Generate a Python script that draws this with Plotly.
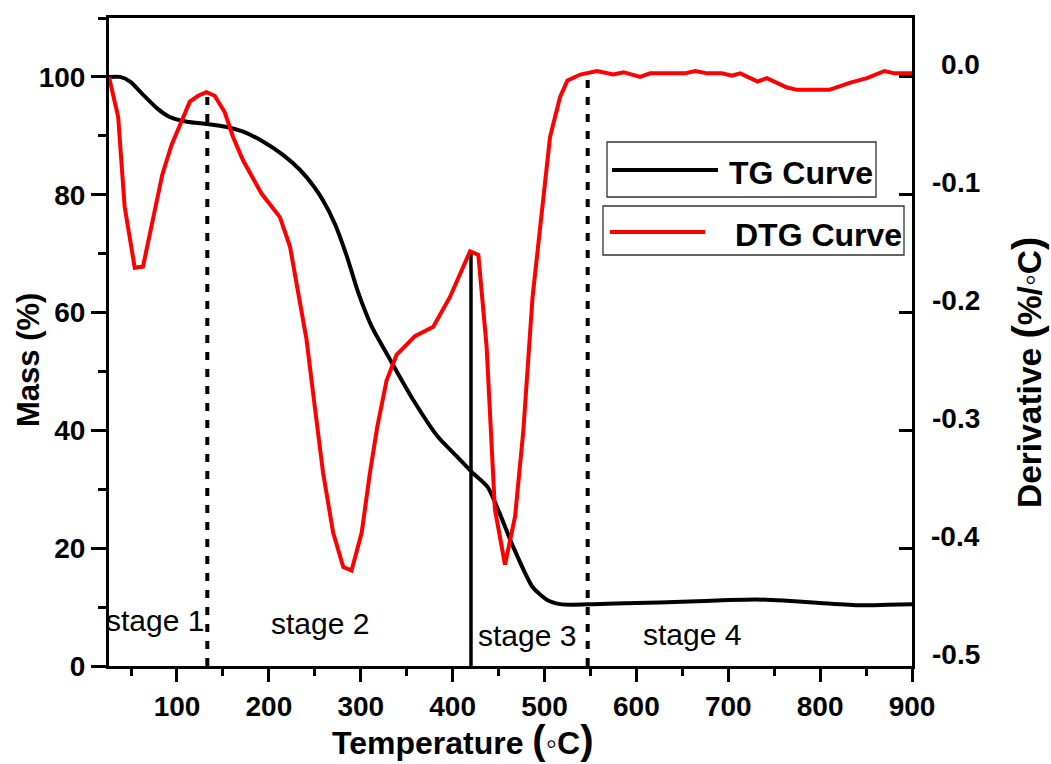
import plotly.graph_objects as go

# ---------------- data ----------------
tg_temp = [26, 38, 49, 63, 78, 92, 111, 133, 154, 172, 194, 215, 234, 248, 259, 272, 285,
           297, 312, 332, 357, 384, 405, 421, 438, 451, 466, 487, 503, 517, 530, 553,
           600, 650, 700, 730, 760, 800, 843, 873, 900]
tg_mass = [100, 100, 99.2, 97.0, 94.7, 93.2, 92.4, 92.0, 91.5, 90.7, 89.0, 86.8, 84.2,
           81.6, 79.0, 75.0, 69.5, 63.5, 57.6, 52.0, 45.2, 38.9, 35.5, 32.9, 30.4, 26.0,
           20.2, 13.4, 11.2, 10.5, 10.4, 10.5, 10.7, 10.9, 11.2, 11.3, 11.1, 10.7, 10.3,
           10.4, 10.5]

dtg_temp = [26, 36, 43, 54, 63, 84, 94, 114, 123, 132, 141, 152, 161, 172, 192, 212, 223,
            232, 241, 250, 259, 270, 281, 290, 301, 310, 318, 328, 339, 359, 379, 397,
            419, 428, 437, 446, 457, 468, 477, 487, 495, 503, 506, 517, 525, 539, 557,
            575, 586, 604, 615, 633, 653, 664, 677, 693, 704, 713, 732, 742, 753, 764,
            775, 792, 810, 821, 832, 851, 863, 870, 881, 900]
dtg_deriv = [0.0, -0.034, -0.110, -0.162, -0.161, -0.083, -0.058, -0.021, -0.016, -0.013,
             -0.016, -0.030, -0.051, -0.071, -0.099, -0.119, -0.144, -0.184, -0.223,
             -0.280, -0.336, -0.387, -0.416, -0.419, -0.387, -0.336, -0.297, -0.258,
             -0.236, -0.220, -0.212, -0.187, -0.148, -0.151, -0.229, -0.367, -0.414,
             -0.373, -0.300, -0.187, -0.130, -0.069, -0.051, -0.017, -0.003, 0.002,
             0.005, 0.002, 0.004, 0.000, 0.003, 0.003, 0.003, 0.005, 0.003, 0.003,
             0.001, 0.003, -0.004, -0.001, -0.005, -0.009, -0.011, -0.011, -0.011,
             -0.008, -0.005, -0.001, 0.003, 0.005, 0.003, 0.003]

boundary_temp = [133, 420, 547]
boundary_top = [-0.016, -0.148, 0.003]
boundary_dash = ["8px,9px", "solid", "8px,9px"]

stage_names = ["stage 1", "stage 2", "stage 3", "stage 4"]
stage_temp = [76, 256, 481, 661]
stage_mass = [7.8, 7.3, 5.1, 5.3]

x_ticks = [100, 200, 300, 400, 500, 600, 700, 800, 900]
mass_ticks = [0, 20, 40, 60, 80, 100]
deriv_ticks = [0.0, -0.1, -0.2, -0.3, -0.4, -0.5]
deriv_ticktext = [f"{v:.1f}" for v in deriv_ticks]

legend_names = ["TG Curve", "DTG Curve"]
legend_colors = ["black", "red"]

# ---------------- layout geometry (page pixels) ----------------
W, H = 1051, 764
L, R, T, B = 109, 912, 18, 666   # plot area in page pixels


def px(xp):
    return (xp - L) / (R - L)


def py(yp):
    return (B - yp) / (B - T)


FONT = "Liberation Sans, Arial, sans-serif"

fig = go.Figure()

fig.add_trace(go.Scatter(x=tg_temp, y=tg_mass, mode="lines", name=legend_names[0],
                         line=dict(color=legend_colors[0], width=4, shape="spline", smoothing=0.6),
                         showlegend=False))

for bt, top, dash in zip(boundary_temp, boundary_top, boundary_dash):
    fig.add_trace(go.Scatter(x=[bt, bt], y=[-0.5, top], yaxis="y2", mode="lines",
                             line=dict(color="black", width=4 if dash != "solid" else 3.5, dash=dash),
                             showlegend=False, hoverinfo="skip"))

fig.add_trace(go.Scatter(x=dtg_temp, y=dtg_deriv, yaxis="y2", mode="lines", name=legend_names[1],
                         line=dict(color=legend_colors[1], width=4),
                         showlegend=False))

annotations = []
for name, st, sm in zip(stage_names, stage_temp, stage_mass):
    annotations.append(dict(x=st, y=sm, xref="x", yref="y", text=name, showarrow=False,
                            font=dict(family=FONT, size=30, color="black"),
                            xanchor="center", yanchor="middle"))

# right-axis tick labels (right-aligned, sitting above their ticks)
for v, t in zip(deriv_ticks, deriv_ticktext):
    annotations.append(dict(x=1, y=v, xref="paper", yref="y2", text=t, showarrow=False,
                            xanchor="right", yanchor="middle", xshift=70, yshift=12,
                            font=dict(family=FONT, size=28, color="black", weight="bold")))

# axis titles
big = "<span style='font-size:40px'>"
annotations.append(dict(x=px(462), y=py(740), xref="paper", yref="paper",
                        text=f"Temperature {big}(</span>◦C{big})</span>", showarrow=False,
                        xanchor="center", yanchor="middle",
                        font=dict(family=FONT, size=32, color="black", weight="bold")))
annotations.append(dict(x=px(28), y=py(360), xref="paper", yref="paper",
                        text="Mass (%)", showarrow=False, textangle=-90,
                        xanchor="center", yanchor="middle",
                        font=dict(family=FONT, size=31, color="black", weight="bold")))
annotations.append(dict(x=px(1027), y=py(373), xref="paper", yref="paper",
                        text=f"Derivative {big}(</span>%/◦C{big})</span>", showarrow=False,
                        textangle=-90, xanchor="center", yanchor="middle",
                        font=dict(family=FONT, size=33.5, color="black", weight="bold")))

# manual legend boxes
shapes = []
legend_boxes = [(607, 142, 876, 197), (603, 206, 904, 255)]
legend_lines = [(612, 718, 170), (610, 705, 232)]
legend_text = [(727, 173), (733, 235)]
for (x0, y0, x1, y1), (lx0, lx1, ly), (tx, ty), name, col in zip(
        legend_boxes, legend_lines, legend_text, legend_names, legend_colors):
    shapes.append(dict(type="rect", xref="paper", yref="paper", x0=px(x0), x1=px(x1),
                       y0=py(y1), y1=py(y0), line=dict(color="#333333", width=1.3),
                       fillcolor="rgba(0,0,0,0)"))
    shapes.append(dict(type="line", xref="paper", yref="paper", x0=px(lx0), x1=px(lx1),
                       y0=py(ly), y1=py(ly), line=dict(color=col, width=4)))
    annotations.append(dict(x=px(tx), y=py(ty), xref="paper", yref="paper", text=name,
                            showarrow=False, xanchor="left", yanchor="middle",
                            font=dict(family=FONT, size=32, color="black", weight="bold")))

fig.update_layout(
    width=W, height=H,
    margin=dict(l=L, r=W - R, t=T, b=H - B, pad=0),
    paper_bgcolor="white", plot_bgcolor="white",
    font=dict(family=FONT, color="black"),
    showlegend=False,
    xaxis=dict(range=[26, 900], tickvals=x_ticks, ticks="outside", ticklen=13, tickwidth=3,
               tickcolor="black", showline=True, linewidth=3, linecolor="black", mirror=True,
               showgrid=False, zeroline=False,
               tickfont=dict(family=FONT, size=28, color="black", weight="bold"),
               minor=dict(dtick=50, tick0=0, ticks="outside", ticklen=7, tickwidth=3,
                          tickcolor="black", showgrid=False)),
    yaxis=dict(range=[0, 110], tickvals=mass_ticks, ticks="outside", ticklen=15, tickwidth=3,
               tickcolor="black", showline=True, linewidth=3, linecolor="black",
               showgrid=False, zeroline=False,
               tickfont=dict(family=FONT, size=28, color="black", weight="bold"),
               minor=dict(dtick=10, tick0=0, ticks="outside", ticklen=8, tickwidth=3,
                          tickcolor="black", showgrid=False)),
    yaxis2=dict(range=[-0.5, 0.05], overlaying="y", side="right", tickvals=deriv_ticks,
                ticks="inside", ticklen=13, tickwidth=3, tickcolor="black",
                showticklabels=False, showline=True, linewidth=3, linecolor="black",
                showgrid=False, zeroline=False),
    annotations=annotations,
    shapes=shapes,
)

fig.write_html("out.html", config={"displayModeBar": False},
               post_script="document.body.style.margin='0';document.body.style.overflow='hidden';")
